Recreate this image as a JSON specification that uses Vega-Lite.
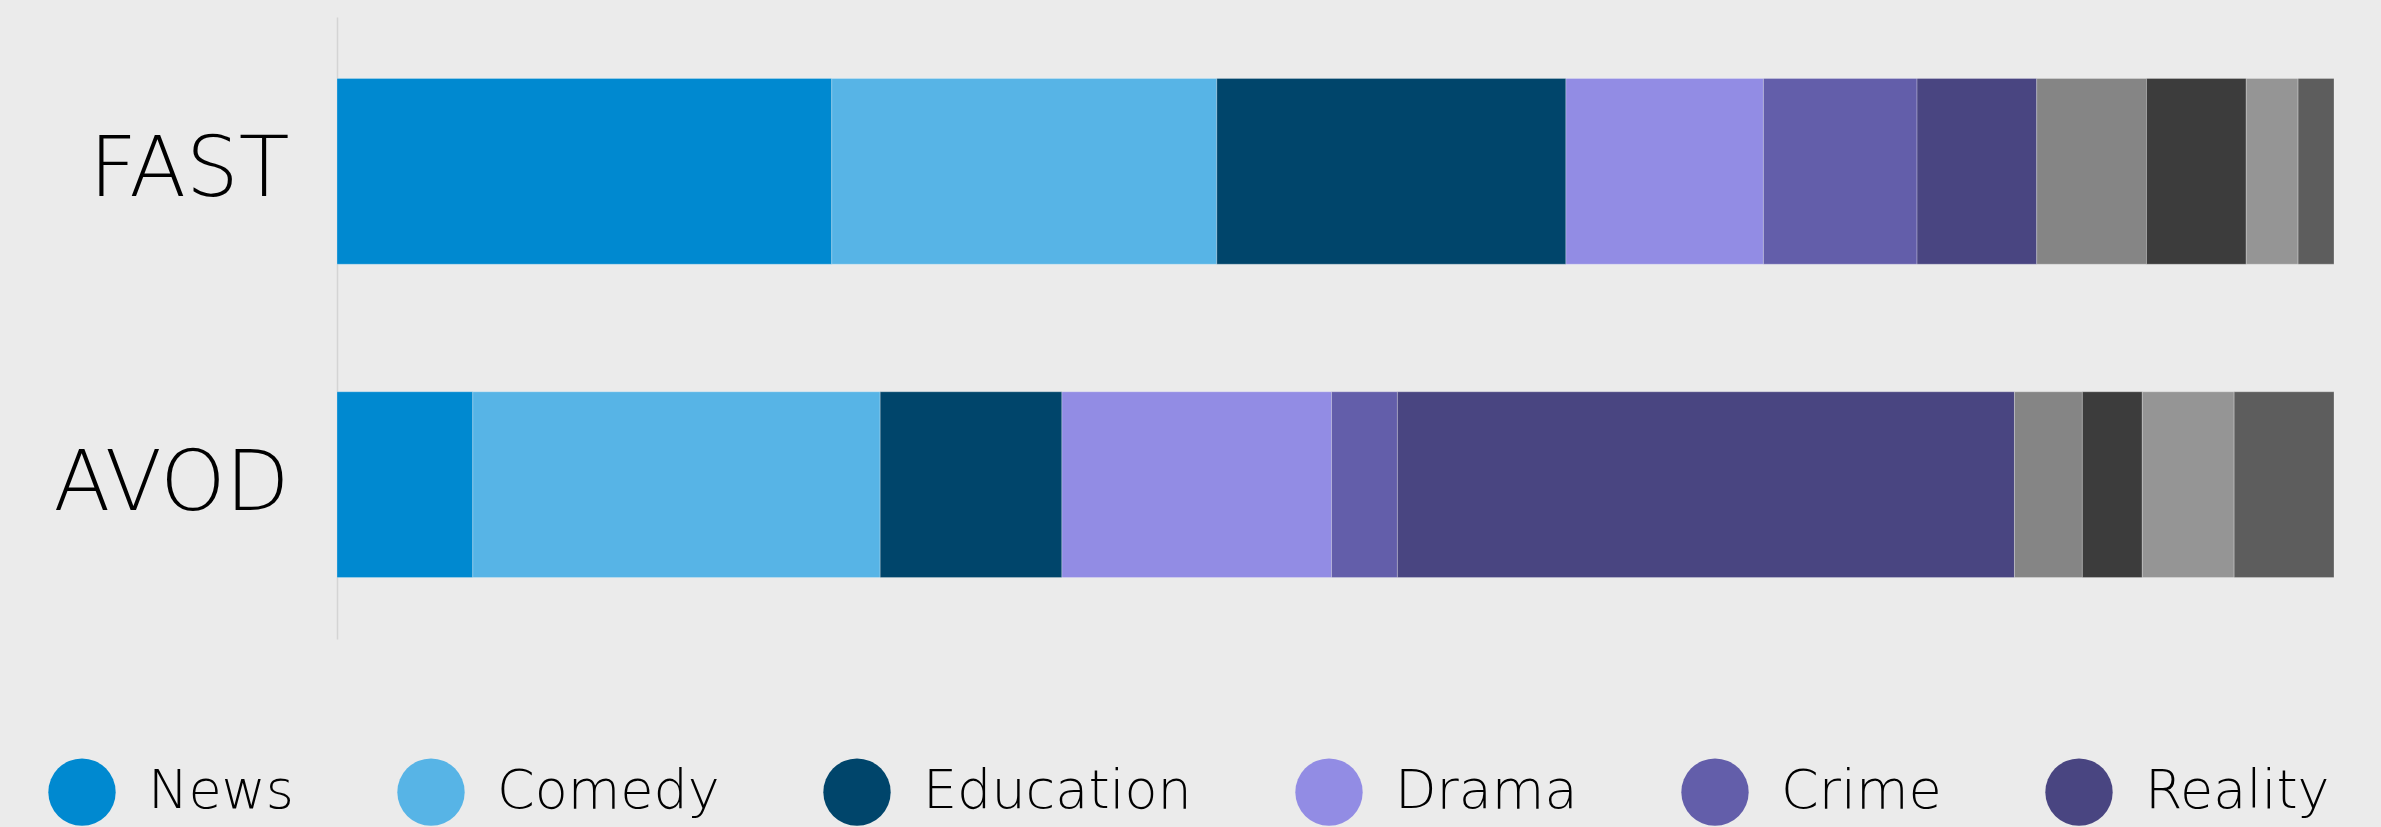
{
  "$schema": "https://vega.github.io/schema/vega-lite/v6.json",
  "autosize": {"type": "none"},
  "width": 1997,
  "height": 622,
  "padding": {"left": 337, "top": 17, "right": 47, "bottom": 188},
  "background": "#EBEBEB",
  "config": {"view": {"stroke": null}, "font": "DejaVu Sans"},
  "data": {"values": [
    {"platform": "FAST", "genre": "News", "order": 1, "share": 24.8},
    {"platform": "FAST", "genre": "Comedy", "order": 2, "share": 19.3},
    {"platform": "FAST", "genre": "Education", "order": 3, "share": 17.5},
    {"platform": "FAST", "genre": "Drama", "order": 4, "share": 9.9},
    {"platform": "FAST", "genre": "Crime", "order": 5, "share": 7.7},
    {"platform": "FAST", "genre": "Reality", "order": 6, "share": 6.0},
    {"platform": "FAST", "genre": "Sports", "order": 7, "share": 5.5},
    {"platform": "FAST", "genre": "Kids", "order": 8, "share": 5.0},
    {"platform": "FAST", "genre": "Lifestyle", "order": 9, "share": 2.6},
    {"platform": "FAST", "genre": "Other", "order": 10, "share": 1.8},
    {"platform": "AVOD", "genre": "News", "order": 1, "share": 6.8},
    {"platform": "AVOD", "genre": "Comedy", "order": 2, "share": 20.4},
    {"platform": "AVOD", "genre": "Education", "order": 3, "share": 9.1},
    {"platform": "AVOD", "genre": "Drama", "order": 4, "share": 13.5},
    {"platform": "AVOD", "genre": "Crime", "order": 5, "share": 3.3},
    {"platform": "AVOD", "genre": "Reality", "order": 6, "share": 30.9},
    {"platform": "AVOD", "genre": "Sports", "order": 7, "share": 3.4},
    {"platform": "AVOD", "genre": "Kids", "order": 8, "share": 3.0},
    {"platform": "AVOD", "genre": "Lifestyle", "order": 9, "share": 4.6},
    {"platform": "AVOD", "genre": "Other", "order": 10, "share": 5.0}
  ]},
  "mark": {"type": "bar", "stroke": "#ffffff", "strokeOpacity": 0.25, "strokeWidth": 1},
  "encoding": {
    "y": {
      "field": "platform", "type": "nominal", "sort": ["FAST", "AVOD"],
      "scale": {"paddingInner": 0.407, "paddingOuter": 0.196},
      "axis": {
        "title": null, "ticks": false, "domain": true, "domainColor": "#D4D4D4", "domainWidth": 1.5,
        "labelFontSize": 83, "labelColor": "#000000", "labelPadding": 48, "labelFont": "DejaVu Sans",
        "labelFontWeight": 200, "labelLimit": 600
      }
    },
    "x": {
      "field": "share", "type": "quantitative", "stack": "normalize",
      "scale": {"domain": [0, 1], "nice": false},
      "axis": null
    },
    "order": {"field": "order", "type": "quantitative"},
    "color": {
      "field": "genre", "type": "nominal",
      "scale": {
        "domain": ["News", "Comedy", "Education", "Drama", "Crime", "Reality", "Sports", "Kids", "Lifestyle", "Other"],
        "range": ["#0089D0", "#57B4E6", "#00456B", "#928CE4", "#635EAA", "#494581", "#858585", "#3C3C3C", "#959595", "#5D5D5D"]
      },
      "legend": {
        "orient": "none", "legendX": -289, "legendY": 741, "direction": "horizontal",
        "title": null, "padding": 0, "symbolType": "circle", "symbolSize": 4536, "symbolStrokeWidth": 0,
        "symbolOpacity": 1, "labelFontSize": 54, "labelFont": "DejaVu Sans", "labelFontWeight": 200,
        "labelColor": "#000000", "labelOffset": 32, "columnPadding": 103, "labelLimit": 600
      }
    }
  }
}
